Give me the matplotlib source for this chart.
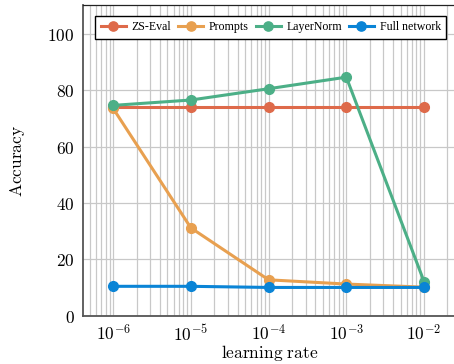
import numpy as np
import matplotlib.pyplot as plt
from matplotlib.ticker import FixedLocator, LogLocator, NullFormatter, FuncFormatter

# learning rates and accuracies
lr = [1e-6, 1e-5, 1e-4, 1e-3, 1e-2]
zs_eval = [74.0, 74.0, 74.0, 74.0, 74.0]
prompts = [73.5, 31.2, 12.8, 11.3, 10.2]
layernorm = [74.6, 76.5, 80.5, 84.6, 12.2]
full_net = [10.5, 10.5, 10.1, 10.1, 10.1]

series = [("ZS-Eval", zs_eval, "#DE6A4A"),
          ("Prompts", prompts, "#E8A050"),
          ("LayerNorm", layernorm, "#4CAF87"),
          ("Full network", full_net, "#0A84D6")]

plt.rcParams['mathtext.fontset'] = 'cm'

fig = plt.figure(figsize=(4.54, 3.64), dpi=100)
ax = fig.add_axes([0.183, 0.132, 0.822, 0.853])

for name, vals, col in series:
    ax.plot(lr, vals, color=col, lw=2.2, marker='o', ms=7, label=name, zorder=3)

ax.set_xscale('log')
ax.set_xlim(4.1e-7, 2.6e-2)
ax.set_ylim(0, 110)
ax.xaxis.set_major_locator(FixedLocator(lr))
ax.xaxis.set_minor_locator(LogLocator(base=10, subs=np.arange(2, 10)))
ax.xaxis.set_minor_formatter(NullFormatter())
ax.xaxis.set_major_formatter(FuncFormatter(lambda v, p: r'$10^{%d}$' % round(np.log10(v))))
ax.yaxis.set_major_locator(FixedLocator([0, 20, 40, 60, 80, 100]))
ax.yaxis.set_major_formatter(FuncFormatter(lambda v, p: r'$%d$' % v))

ax.grid(True, which='both', axis='x', color='#c8c8c8', lw=0.9)
ax.grid(True, which='major', axis='y', color='#c8c8c8', lw=0.9)
ax.set_axisbelow(True)
ax.tick_params(which='both', length=0, labelsize=12.5, pad=6)

for s in ['left', 'bottom']:
    ax.spines[s].set_color('#555555')
    ax.spines[s].set_linewidth(1.3)
ax.spines['top'].set_color('#222222')
ax.spines['top'].set_linewidth(0.9)
ax.spines['right'].set_visible(False)

ax.set_xlabel(r'$\mathrm{learning\ rate}$', fontsize=12.5, labelpad=-1)
ax.set_ylabel(r'$\mathrm{Accuracy}$', fontsize=12.5, labelpad=15)

leg = ax.legend(loc='upper left', bbox_to_anchor=(0.017, 0.985), ncol=4,
                prop={'family': 'Liberation Serif', 'size': 8.6},
                fancybox=False, edgecolor='black', framealpha=1,
                handlelength=2.1, handletextpad=0.5, columnspacing=0.55,
                borderpad=0.45, markerscale=0.95)
leg.get_frame().set_linewidth(1.0)

fig.savefig('out.png', dpi=100)
